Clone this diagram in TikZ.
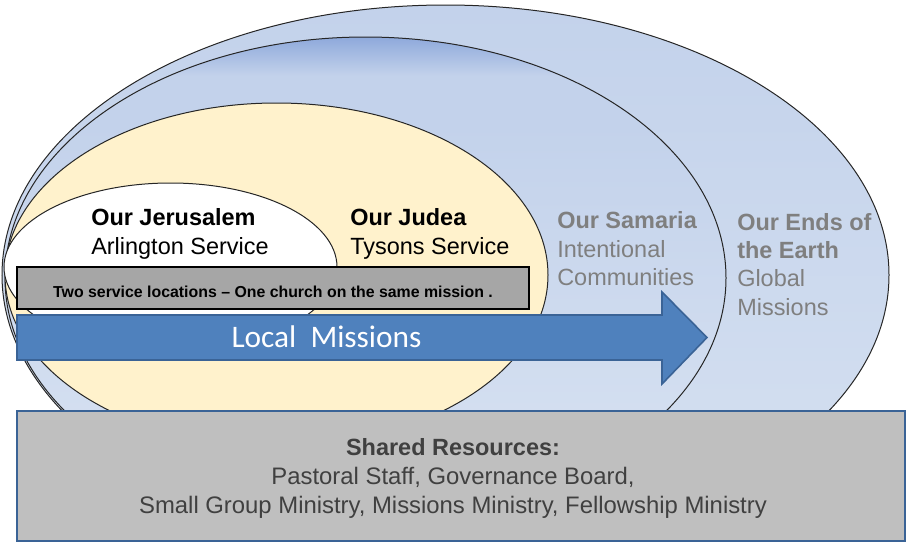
\documentclass[tikz,border=0pt]{standalone}
\usepackage{fontspec}
\setmainfont{Liberation Sans}
\newfontfamily\calib{Carlito}
\definecolor{outerA}{HTML}{C3D2EB}
\definecolor{outerB}{HTML}{D6E1F1}
\definecolor{samtop}{HTML}{8EA9DB}
\definecolor{sammid}{HTML}{C3D2EB}
\definecolor{sambot}{HTML}{D9E3F2}
\definecolor{judea}{HTML}{FFF2CC}
\definecolor{svcgray}{HTML}{A6A6A6}
\definecolor{resgray}{HTML}{BFBFBF}
\definecolor{arrowblue}{HTML}{4F81BD}
\definecolor{arrowedge}{HTML}{3A6396}
\definecolor{labelgray}{HTML}{7F7F7F}
\definecolor{textdark}{HTML}{404040}
\pgfdeclareverticalshading{samshade}{100bp}{color(0bp)=(sambot); color(25bp)=(sambot); color(66bp)=(sammid); color(71bp)=(sammid); color(75bp)=(samtop); color(100bp)=(samtop)}
\tikzset{
  ring/.style={draw=black!85, line width=0.75pt},
  lbl/.style={inner sep=0pt, anchor=base west, font=\fontsize{17.6pt}{21pt}\selectfont},
  lblb/.style={lbl, font=\fontsize{17.6pt}{21pt}\selectfont\bfseries},
  res/.style={inner sep=0pt, anchor=base, text=textdark, font=\fontsize{17.9pt}{21pt}\selectfont},
}
\begin{document}
\begin{tikzpicture}[x=0.75pt,y=-0.75pt]
\useasboundingbox (0,0) rectangle (907,543);
% nested ellipses, cut at the top of the shared-resources box
\begin{scope}
\clip (0,0) rectangle (907,412);
\draw[ring, top color=outerA, bottom color=outerB] (445.5,275) ellipse [x radius=443.5, y radius=270];
\draw[ring, shading=samshade] (365.5,278) ellipse [x radius=360.5, y radius=241];
\draw[ring, fill=judea] (276.5,275) ellipse [x radius=271.5, y radius=172];
\draw[ring, fill=white] (170.5,267) ellipse [x radius=166.5, y radius=84];
\end{scope}
% service box
\draw[fill=svcgray, draw=black, line width=0.9pt] (17,267) rectangle (529,309);
\node (svc) [inner sep=0pt, anchor=base, font=\fontsize{11.9pt}{14pt}\selectfont\bfseries] at (273,297) {Two service locations -- One church on the same mission .};
% arrow
\draw[fill=arrowblue, draw=arrowedge, line width=1.2pt, line join=miter]
  (17,315) -- (662,315) -- (662,292) -- (707,337.5) -- (662,384) -- (662,360) -- (17,360) -- cycle;
\node (local) [inner sep=0pt, anchor=base, text=white, font=\calib\fontsize{23.5pt}{27pt}\selectfont] at (326.5,347) {Local\ \ Missions};
% labels
\node (jerT) [lblb] at (91,225) {Our Jerusalem};
\node (jerS) [lbl] at (91,254) {Arlington Service};
\node (judT) [lblb] at (350,225) {Our Judea};
\node (judS) [lbl] at (350,254) {Tysons Service};
\node (samT) [lblb, text=labelgray] at (557,228) {Our Samaria};
\node (samS1) [lbl, text=labelgray] at (557,257) {Intentional};
\node (samS2) [lbl, text=labelgray] at (557,285.5) {Communities};
\node (endT1) [lblb, text=labelgray] at (737,230) {Our Ends of};
\node (endT2) [lblb, text=labelgray] at (737,258.5) {the Earth};
\node (endS1) [lbl, text=labelgray] at (737,286.5) {Global};
\node (endS2) [lbl, text=labelgray] at (737,315) {Missions};
% shared resources
\draw[fill=resgray, draw=arrowedge, line width=1.5pt] (17,411) rectangle (905,541);
\node (resT) [res, font=\fontsize{17.6pt}{21pt}\selectfont\bfseries] at (453,455) {Shared Resources:};
\node (res1) [res] at (453,484) {Pastoral Staff, Governance Board,};
\node (res2) [res] at (453,513) {Small Group Ministry, Missions Ministry, Fellowship Ministry};
\end{tikzpicture}
\end{document}
